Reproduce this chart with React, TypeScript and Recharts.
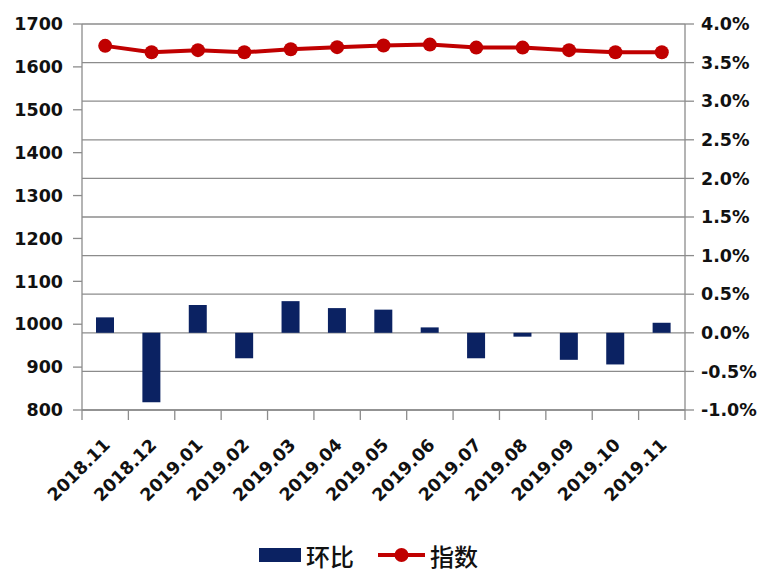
import { ComposedChart, Bar, Line, XAxis, YAxis, CartesianGrid, Legend } from "recharts";

const months = [
  "2018.11", "2018.12", "2019.01", "2019.02", "2019.03", "2019.04", "2019.05",
  "2019.06", "2019.07", "2019.08", "2019.09", "2019.10", "2019.11",
];
// 环比, in percent
const huanbi = [0.2, -0.9, 0.36, -0.33, 0.41, 0.32, 0.3, 0.07, -0.33, -0.05, -0.35, -0.41, 0.13];
// 指数
const zhishu = [1649, 1634, 1639, 1634, 1641, 1646, 1650, 1652, 1645, 1645, 1639, 1634, 1634];

const leftTicks = [800, 900, 1000, 1100, 1200, 1300, 1400, 1500, 1600, 1700];
const rightTicks = [-1, -0.5, 0, 0.5, 1, 1.5, 2, 2.5, 3, 3.5, 4];

const data = months.map((m, i) => ({ month: m, huanbi: huanbi[i], zhishu: zhishu[i] }));

const BAR_COLOR = "#0b2262";
const LINE_COLOR = "#c00000";
const AXIS_COLOR = "#8c8c8c";
const tickFont = { fontFamily: "DejaVu Sans", fontWeight: 700, fontSize: 17.5, fill: "#111" };

// label plus Excel-style tick marks between categories
function MonthTick({ x, y, payload, index }: any) {
  const half = payload.offset || 0;
  const ax = x + 6;
  const ay = y + 36;
  return (
    <g>
      <line x1={x - half} y1={y} x2={x - half} y2={y + 10} stroke={AXIS_COLOR} strokeWidth={1.3} />
      {index === months.length - 1 && (
        <line x1={x + half} y1={y} x2={x + half} y2={y + 10} stroke={AXIS_COLOR} strokeWidth={1.3} />
      )}
      <text x={ax} y={ay} textAnchor="end" transform={`rotate(-45 ${ax} ${ay})`} {...tickFont}>
        {payload.value}
      </text>
    </g>
  );
}

function LegendContent({ payload }: any) {
  // bars first, like the original
  const items = [...(payload || [])].sort((a: any, b: any) => (a.type === "line" ? 1 : 0) - (b.type === "line" ? 1 : 0));
  return (
    <div style={{ display: "flex", justifyContent: "center", alignItems: "center", height: 40, paddingRight: 36, fontFamily: "Noto Sans CJK SC", fontWeight: 500, fontSize: 24, color: "#111" }}>
      {items.map((p: any) => (
        <div key={p.value} style={{ display: "flex", alignItems: "center", margin: "0 12px" }}>
          {p.type === "line" ? (
            <svg width={47} height={16} style={{ marginRight: 5 }}>
              <line x1={0} y1={8} x2={47} y2={8} stroke={LINE_COLOR} strokeWidth={4} />
              <circle cx={23.5} cy={8} r={7} fill={LINE_COLOR} />
            </svg>
          ) : (
            <span style={{ display: "inline-block", width: 42, height: 14, background: BAR_COLOR, marginRight: 5 }} />
          )}
          <span>{p.value}</span>
        </div>
      ))}
    </div>
  );
}

export default function App() {
  return (
    <div style={{ position: "absolute", left: 0, top: 0, background: "#fff" }}>
      <ComposedChart width={773} height={577} data={data} margin={{ top: 24, right: 0, bottom: 2, left: 0 }}>
        <CartesianGrid yAxisId="right" vertical={false} stroke={AXIS_COLOR} strokeWidth={1.3} />
        <XAxis
          dataKey="month" height={125} interval={0}
          axisLine={{ stroke: AXIS_COLOR, strokeWidth: 1.3 }} tickLine={false} tickSize={0} tickMargin={0} tick={<MonthTick />}
        />
        <YAxis
          yAxisId="left" orientation="left" width={82} domain={[800, 1700]} ticks={leftTicks}
          interval={0} allowDataOverflow tickSize={9} tickMargin={10} tick={tickFont}
          axisLine={{ stroke: AXIS_COLOR, strokeWidth: 1.3 }} tickLine={{ stroke: AXIS_COLOR, strokeWidth: 1.3 }}
        />
        <YAxis
          yAxisId="right" orientation="right" width={88} domain={[-1, 4]} ticks={rightTicks}
          interval={0} allowDataOverflow tickSize={9} tickMargin={7} tick={{ ...tickFont, textAnchor: "start" }}
          tickFormatter={(v: number) => `${v.toFixed(1)}%`}
          axisLine={{ stroke: AXIS_COLOR, strokeWidth: 1.3 }} tickLine={{ stroke: AXIS_COLOR, strokeWidth: 1.3 }}
        />
        <Legend verticalAlign="bottom" content={<LegendContent />} wrapperStyle={{ width: 773, left: 0 }} />
        <Bar yAxisId="right" dataKey="huanbi" name="环比" fill={BAR_COLOR} barSize={18} isAnimationActive={false} />
        <Line
          yAxisId="left" dataKey="zhishu" name="指数" stroke={LINE_COLOR} strokeWidth={4}
          dot={{ r: 7, fill: LINE_COLOR, stroke: LINE_COLOR, strokeWidth: 0 }} activeDot={false} isAnimationActive={false}
        />
      </ComposedChart>
    </div>
  );
}
